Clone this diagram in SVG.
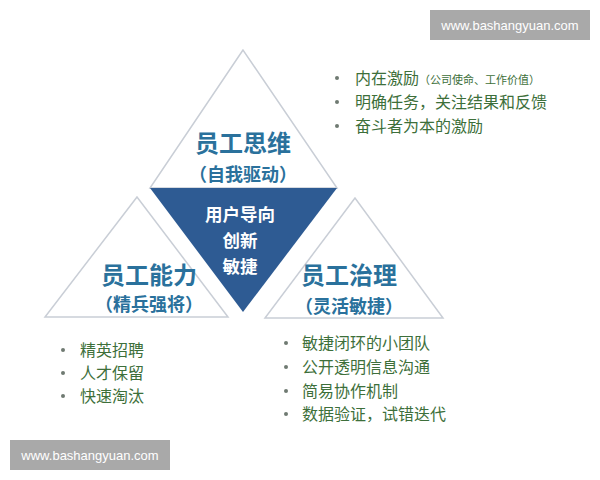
<svg xmlns="http://www.w3.org/2000/svg" width="600" height="480" viewBox="0 0 600 480">
<defs>
<style>
.tri{fill:#ffffff;stroke:#c9ced6;stroke-width:1.5}
.h{font-family:"Noto Sans CJK SC","Liberation Sans",sans-serif;font-weight:bold;fill:#2a719c;text-anchor:middle;font-size:24px}
.hs{font-family:"Noto Sans CJK SC","Liberation Sans",sans-serif;font-weight:bold;fill:#2a719c;text-anchor:middle;font-size:18px}
.w{font-family:"Noto Sans CJK SC","Liberation Sans",sans-serif;font-weight:bold;fill:#ffffff;text-anchor:middle;font-size:17.5px}
.b{font-family:"Noto Sans CJK SC","Liberation Sans",sans-serif;fill:#3d6f3a;font-size:16px}
.dot{fill:#6f7a72}
.wm{fill:#a9a9a9}
.wmt{font-family:"Liberation Sans",sans-serif;fill:#ffffff;font-size:13px;text-anchor:middle}
</style>
</defs>
<rect width="600" height="480" fill="#ffffff"/>
<g id="top-triangle">
<polygon class="tri" points="243,50 150,188 337,188"/>
<text class="h" x="243" y="152">员工思维</text>
<text class="hs" x="243" y="181">（自我驱动）</text>
</g>
<g id="left-triangle">
<polygon class="tri" points="137,197 45,317 228,317"/>
<text class="h" x="149" y="284">员工能力</text>
<text class="hs" x="149" y="311">（精兵强将）</text>
</g>
<g id="right-triangle">
<polygon class="tri" points="355,198 265,318 443,318"/>
<text class="h" x="349" y="284">员工治理</text>
<text class="hs" x="349" y="313">（灵活敏捷）</text>
</g>
<g id="center-triangle">
<polygon points="150,188 337,188 243,312" fill="#2e5b93"/>
<text class="w" x="240" y="221">用户导向</text>
<text class="w" x="240" y="247">创新</text>
<text class="w" x="240" y="273">敏捷</text>
</g>
<g id="top-list">
<circle class="dot" cx="337" cy="78" r="2"/>
<text class="b" x="355" y="84">内在激励<tspan font-size="11">（公司使命、工作价值）</tspan></text>
<circle class="dot" cx="337" cy="102" r="2"/>
<text class="b" x="355" y="108">明确任务，关注结果和反馈</text>
<circle class="dot" cx="337" cy="126" r="2"/>
<text class="b" x="355" y="132">奋斗者为本的激励</text>
</g>
<g id="left-list">
<circle class="dot" cx="63" cy="350" r="2"/>
<text class="b" x="80" y="356">精英招聘</text>
<circle class="dot" cx="63" cy="373" r="2"/>
<text class="b" x="80" y="379">人才保留</text>
<circle class="dot" cx="63" cy="396" r="2"/>
<text class="b" x="80" y="402">快速淘汰</text>
</g>
<g id="right-list">
<circle class="dot" cx="286" cy="343" r="2"/>
<text class="b" x="302" y="349">敏捷闭环的小团队</text>
<circle class="dot" cx="286" cy="367" r="2"/>
<text class="b" x="302" y="373">公开透明信息沟通</text>
<circle class="dot" cx="286" cy="391" r="2"/>
<text class="b" x="302" y="397">简易协作机制</text>
<circle class="dot" cx="286" cy="414" r="2"/>
<text class="b" x="302" y="420">数据验证，试错迭代</text>
</g>
<g id="watermark-top">
<rect class="wm" x="430" y="10" width="160" height="30"/>
<text class="wmt" x="510" y="30">www.bashangyuan.com</text>
</g>
<g id="watermark-bottom">
<rect class="wm" x="10" y="440" width="160" height="30"/>
<text class="wmt" x="90" y="460">www.bashangyuan.com</text>
</g>
<g id="connectors"/>
</svg>
